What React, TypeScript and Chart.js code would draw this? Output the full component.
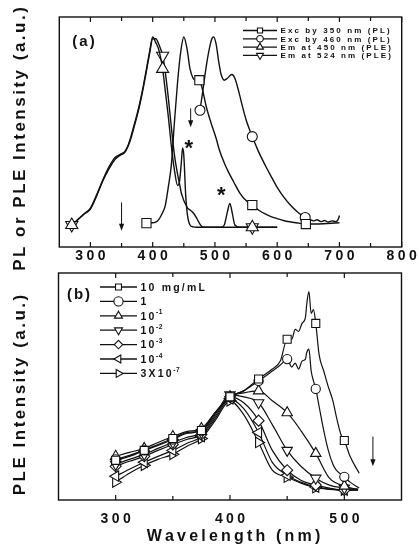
import React, { useEffect, useRef } from "react";
import { Chart, registerables } from "chart.js";

Chart.register(...registerables);

const FONT = '"Liberation Sans", Arial, Helvetica, sans-serif';
const INK = "#111";

// ---------- panel (a): PL and PLE spectra ----------
const A_PLE_NM = [270, 280, 290, 300, 310, 320, 330, 340, 345, 350, 355, 360, 365, 370, 375, 380, 385, 390, 395, 400, 405, 410, 416, 420, 425, 430, 435, 440, 443, 446, 448, 450, 453, 456, 460, 465, 470, 475, 480, 490, 500, 510, 515, 520, 524, 528, 532, 540, 560, 580, 600];
const A_EM450 = [0, 0.03, 0.06, 0.09, 0.16, 0.24, 0.31, 0.36, 0.37, 0.38, 0.39, 0.42, 0.47, 0.53, 0.59, 0.66, 0.74, 0.83, 0.92, 1.0, 0.97, 0.93, 0.83, 0.72, 0.58, 0.42, 0.29, 0.21, 0.23, 0.33, 0.41, 0.37, 0.16, 0.05, 0.0, -0.01, -0.012, -0.012, -0.012, -0.012, -0.012, -0.012, -0.012, -0.012, -0.012, -0.012, -0.012, -0.012, -0.012, -0.012, -0.012];
const A_EM524 = [0, 0.028, 0.058, 0.085, 0.155, 0.235, 0.3, 0.35, 0.365, 0.375, 0.385, 0.415, 0.46, 0.52, 0.58, 0.65, 0.73, 0.82, 0.91, 0.99, 0.99, 0.96, 0.9, 0.82, 0.68, 0.52, 0.37, 0.27, 0.22, 0.17, 0.15, 0.13, 0.11, 0.09, 0.08, 0.065, 0.04, 0.01, -0.01, -0.012, -0.012, -0.012, 0.0, 0.07, 0.115, 0.06, 0.0, -0.012, -0.012, -0.012, -0.012];
const A_SQ_NM = [390, 400, 405, 410, 415, 420, 425, 430, 435, 440, 445, 450, 455, 460, 465, 470, 475, 480, 486, 494, 502, 507, 515, 522, 530, 540, 550, 560, 570, 580, 590, 600, 610, 620, 635, 646, 660, 680, 700];
const A_EXC350 = [0.01, 0.012, 0.015, 0.03, 0.06, 0.1, 0.2, 0.32, 0.55, 0.76, 0.92, 1.0, 0.94, 0.83, 0.78, 0.77, 0.77, 0.72, 0.63, 0.54, 0.46, 0.4, 0.33, 0.28, 0.23, 0.17, 0.13, 0.106, 0.08, 0.06, 0.045, 0.034, 0.024, 0.017, 0.01, 0.005, 0.005, 0.008, 0.012];
const A_CI_NM = [476, 480, 485, 490, 495, 498, 502, 506, 510, 515, 520, 527, 532, 539, 545, 550, 560, 570, 582, 590, 600, 608, 620, 634, 645, 652, 658, 664, 670, 676, 682, 688, 694, 698, 700];
const A_EXC460 = [0.61, 0.7, 0.82, 0.92, 0.99, 1.0, 0.96, 0.87, 0.8, 0.77, 0.78, 0.8, 0.78, 0.7, 0.62, 0.56, 0.47, 0.39, 0.31, 0.26, 0.2, 0.16, 0.11, 0.065, 0.04, 0.03, 0.022, 0.028, 0.018, 0.024, 0.016, 0.022, 0.018, 0.03, 0.05];
const A_MARK_EXC350 = [390, 475, 560, 646];
const A_MARK_EXC460 = [476, 560, 645];
const A_MARK_PLE = [270, 416, 560];
const A_TICKS = [300, 400, 500, 600, 700, 800];
const A_MINOR = [350, 450, 550, 650, 750];
const A_LEGEND = ["Exc by 350 nm (PL)", "Exc by 460 nm (PL)", "Em at 450 nm (PLE)", "Em at 524 nm (PLE)"];
const A_ARROW_NM = [350, 461];
const A_ARROW_FROM = [0.12, 0.62];
const A_ARROW_TO = [-0.03, 0.52];
const A_STAR_NM = [458, 510];
const A_STAR_Y = [0.44, 0.19];

// ---------- panel (b): PLE versus concentration ----------
const B_HI_NM = [300, 312, 325, 337, 350, 362, 375, 387, 400, 412, 425, 437, 444, 450, 454, 457, 460, 463, 466, 467, 469, 471, 473, 475, 478, 482, 486, 490, 493, 497, 500, 505, 513];
const B_10MG = [0.15, 0.17, 0.2, 0.23, 0.26, 0.29, 0.3, 0.39, 0.47, 0.5, 0.56, 0.61, 0.65, 0.76, 0.76, 0.81, 0.8, 0.84, 0.87, 0.93, 1.0, 0.89, 0.91, 0.84, 0.68, 0.6, 0.52, 0.45, 0.37, 0.28, 0.25, 0.17, 0.085];
const B_1MG = [0.155, 0.175, 0.2, 0.225, 0.255, 0.285, 0.3, 0.39, 0.47, 0.5, 0.55, 0.6, 0.63, 0.66, 0.62, 0.64, 0.61, 0.65, 0.66, 0.69, 0.71, 0.6, 0.55, 0.51, 0.42, 0.3, 0.2, 0.13, 0.1, 0.08, 0.067, 0.04, 0.01];
const B_LO_NM = [300, 312, 325, 337, 350, 362, 375, 387, 400, 412, 425, 437, 450, 462, 475, 487, 500, 512];
const B_E1 = [0.17, 0.19, 0.21, 0.24, 0.27, 0.295, 0.31, 0.39, 0.47, 0.49, 0.5, 0.45, 0.39, 0.3, 0.185, 0.06, 0.02, 0.003];
const B_E2 = [0.13, 0.155, 0.18, 0.21, 0.24, 0.265, 0.29, 0.38, 0.48, 0.47, 0.44, 0.33, 0.2, 0.12, 0.06, 0.025, 0.01, 0.004];
const B_E3 = [0.12, 0.145, 0.17, 0.2, 0.23, 0.255, 0.28, 0.37, 0.47, 0.44, 0.35, 0.2, 0.1, 0.05, 0.025, 0.01, 0.0, 0.005];
const B_E4 = [0.07, 0.105, 0.14, 0.17, 0.2, 0.235, 0.27, 0.36, 0.46, 0.41, 0.29, 0.14, 0.075, 0.04, 0.015, 0.006, 0.0, 0.0];
const B_E7 = [0.04, 0.085, 0.125, 0.155, 0.18, 0.22, 0.26, 0.35, 0.45, 0.38, 0.24, 0.1, 0.065, 0.035, 0.012, 0.004, 0.0, 0.0];
const B_MARKS = [300, 325, 350, 375, 400, 425, 450, 475, 500];
const B_TICKS = [300, 400, 500];
const B_MINOR = [350, 450];
const B_LEGEND: [string, string][] = [["10 mg/mL", ""], ["1", ""], ["10", "-1"], ["10", "-2"], ["10", "-3"], ["10", "-4"], ["3X10", "-7"]];
const B_ARROW_NM = [525];
const B_ARROW_FROM = [0.27];
const B_ARROW_TO = [0.12];

type Mark = { style: string; r: number; rot: number };

const A_STYLES: Mark[] = [
  { style: "rect", r: 6.5, rot: 0 },
  { style: "circle", r: 5, rot: 0 },
  { style: "triangle", r: 7, rot: 0 },
  { style: "triangle", r: 7, rot: 180 },
];
const B_STYLES: Mark[] = [
  { style: "rect", r: 5.7, rot: 0 },
  { style: "circle", r: 4.6, rot: 0 },
  { style: "triangle", r: 6, rot: 0 },
  { style: "triangle", r: 6, rot: 180 },
  { style: "rectRot", r: 5.5, rot: 0 },
  { style: "triangle", r: 6, rot: 270 },
  { style: "triangle", r: 6, rot: 90 },
];

function lineSet(label: string, nm: number[], vals: number[], marks: number[], m: Mark, width: number) {
  return {
    label,
    data: nm.map((x, i) => ({ x, y: vals[i] })),
    borderColor: INK,
    borderWidth: width,
    backgroundColor: "#fff",
    fill: false,
    cubicInterpolationMode: "monotone",
    pointStyle: m.style,
    pointRotation: m.rot,
    pointRadius: (c: any) => (marks.includes(nm[c.dataIndex]) ? m.r : 0),
    pointHoverRadius: 0,
    pointBackgroundColor: "#fff",
    pointBorderColor: INK,
    pointBorderWidth: 1.1,
  };
}

function marker(ctx: CanvasRenderingContext2D, m: Mark, x: number, y: number, r: number) {
  ctx.save();
  ctx.translate(x, y);
  ctx.beginPath();
  if (m.style === "circle") {
    ctx.arc(0, 0, r, 0, Math.PI * 2);
  } else if (m.style === "rect") {
    const s = r * Math.SQRT1_2;
    ctx.rect(-s, -s, 2 * s, 2 * s);
  } else if (m.style === "rectRot") {
    ctx.moveTo(0, -r);
    ctx.lineTo(r, 0);
    ctx.lineTo(0, r);
    ctx.lineTo(-r, 0);
  } else {
    let a = (m.rot * Math.PI) / 180;
    ctx.moveTo(Math.sin(a) * r, -Math.cos(a) * r);
    a += (2 * Math.PI) / 3;
    ctx.lineTo(Math.sin(a) * r, -Math.cos(a) * r);
    a += (2 * Math.PI) / 3;
    ctx.lineTo(Math.sin(a) * r, -Math.cos(a) * r);
  }
  ctx.closePath();
  ctx.fillStyle = "#fff";
  ctx.fill();
  ctx.lineWidth = 1.1;
  ctx.strokeStyle = INK;
  ctx.stroke();
  ctx.restore();
}

// draws text one glyph at a time so that letter spacing is exact
function spaced(ctx: CanvasRenderingContext2D, text: string, x: number, y: number, gap: number, align: "left" | "center") {
  const chars = Array.from(text);
  const widths = chars.map((c) => ctx.measureText(c).width);
  const total = widths.reduce((s, w) => s + w, 0) + gap * (chars.length - 1);
  let cx = align === "left" ? x : x - total / 2;
  ctx.textAlign = "left";
  chars.forEach((c, i) => {
    ctx.fillText(c, cx, y);
    cx += widths[i] + gap;
  });
  return cx;
}

function frameAndTicks(ctx: CanvasRenderingContext2D, ca: any, xs: any, major: number[], minor: number[]) {
  ctx.strokeStyle = INK;
  ctx.lineWidth = 1.4;
  ctx.strokeRect(ca.left, ca.top, ca.right - ca.left, ca.bottom - ca.top);
  ctx.lineWidth = 1.2;
  const tick = (v: number, len: number) => {
    const px = xs.getPixelForValue(v);
    ctx.beginPath();
    ctx.moveTo(px, ca.bottom);
    ctx.lineTo(px, ca.bottom - len);
    ctx.moveTo(px, ca.top);
    ctx.lineTo(px, ca.top + len);
    ctx.stroke();
  };
  major.forEach((v) => tick(v, 5));
  minor.forEach((v) => tick(v, 4));
}

function tickLabels(ctx: CanvasRenderingContext2D, xs: any, major: number[], baseY: number) {
  ctx.fillStyle = INK;
  ctx.font = `bold 14px ${FONT}`;
  ctx.textBaseline = "alphabetic";
  major.forEach((v) => spaced(ctx, String(v), xs.getPixelForValue(v), baseY, 3.4, "center"));
}

function yTitle(ctx: CanvasRenderingContext2D, text: string, cx: number, cy: number) {
  ctx.save();
  ctx.translate(cx, cy);
  ctx.rotate(-Math.PI / 2);
  ctx.fillStyle = INK;
  ctx.font = `bold 17px ${FONT}`;
  ctx.textBaseline = "alphabetic";
  spaced(ctx, text, 0, 17 * 0.358, 2.5, "center");
  ctx.restore();
}

function arrow(ctx: CanvasRenderingContext2D, x: number, y0: number, y1: number) {
  ctx.strokeStyle = INK;
  ctx.fillStyle = INK;
  ctx.lineWidth = 1;
  ctx.beginPath();
  ctx.moveTo(x, y0);
  ctx.lineTo(x, y1 - 5);
  ctx.stroke();
  ctx.beginPath();
  ctx.moveTo(x, y1);
  ctx.lineTo(x - 2.6, y1 - 7);
  ctx.lineTo(x + 2.6, y1 - 7);
  ctx.closePath();
  ctx.fill();
}

const panelA = {
  id: "panelA",
  afterDraw(chart: any) {
    const { ctx, chartArea: ca, scales } = chart;
    const xs = scales.x;
    const ys = scales.y;
    ctx.save();
    frameAndTicks(ctx, ca, xs, A_TICKS, A_MINOR);
    tickLabels(ctx, xs, A_TICKS, ca.bottom + 13);
    yTitle(ctx, "PL or PLE Intensity (a.u.)", 18.5, 139);

    ctx.fillStyle = INK;
    ctx.font = `bold 15px ${FONT}`;
    ctx.textBaseline = "alphabetic";
    spaced(ctx, "(a)", 83.5, 45.5, 2, "center");

    A_ARROW_NM.forEach((nm, i) =>
      arrow(ctx, xs.getPixelForValue(nm), ys.getPixelForValue(A_ARROW_FROM[i]), ys.getPixelForValue(A_ARROW_TO[i]))
    );
    ctx.fillStyle = INK;
    ctx.font = `bold 22px ${FONT}`;
    ctx.textAlign = "center";
    A_STAR_NM.forEach((nm, i) => ctx.fillText("*", xs.getPixelForValue(nm), ys.getPixelForValue(A_STAR_Y[i]) + 12.5));

    // legend
    const rowsY = [30.5, 38.8, 47.1, 55.4];
    const legendR = [3.6, 3.3, 4, 4];
    A_LEGEND.forEach((label, i) => {
      const y = rowsY[i];
      ctx.strokeStyle = INK;
      ctx.lineWidth = 1.3;
      ctx.beginPath();
      ctx.moveTo(243, y);
      ctx.lineTo(277, y);
      ctx.stroke();
      marker(ctx, A_STYLES[i], 260, y, legendR[i]);
      ctx.fillStyle = INK;
      ctx.font = `bold 8px ${FONT}`;
      ctx.textBaseline = "alphabetic";
      spaced(ctx, label, 280.5, y + 2.9, 2.1, "left");
    });
    ctx.restore();
  },
};

const panelB = {
  id: "panelB",
  afterDraw(chart: any) {
    const { ctx, chartArea: ca, scales } = chart;
    const xs = scales.x;
    const ys = scales.y;
    ctx.save();
    frameAndTicks(ctx, ca, xs, B_TICKS, B_MINOR);
    tickLabels(ctx, xs, B_TICKS, ca.bottom + 23);
    yTitle(ctx, "PLE Intensity (a.u.)", 18.5, 133);

    ctx.fillStyle = INK;
    ctx.font = `bold 16px ${FONT}`;
    ctx.textBaseline = "alphabetic";
    spaced(ctx, "Wavelength (nm)", 233.5, 273 + 16 * 0.358, 3.2, "center");

    ctx.font = `bold 15px ${FONT}`;
    spaced(ctx, "(b)", 78.5, 31.5 + 5.4, 2, "center");

    B_ARROW_NM.forEach((nm, i) =>
      arrow(ctx, xs.getPixelForValue(nm), ys.getPixelForValue(B_ARROW_FROM[i]), ys.getPixelForValue(B_ARROW_TO[i]))
    );

    const legendR = [4.2, 4.6, 4.6, 4.6, 4.2, 4.6, 4.6];
    B_LEGEND.forEach(([main, sup], i) => {
      const y = 25 + i * 14.4;
      ctx.strokeStyle = INK;
      ctx.lineWidth = 1.3;
      ctx.beginPath();
      ctx.moveTo(100, y);
      ctx.lineTo(137, y);
      ctx.stroke();
      marker(ctx, B_STYLES[i], 118.5, y, legendR[i]);
      ctx.fillStyle = INK;
      ctx.font = `bold 10.5px ${FONT}`;
      ctx.textBaseline = "alphabetic";
      const end = spaced(ctx, main, 140.5, y + 3.8, 2.2, "left");
      if (sup) {
        ctx.font = `bold 6.5px ${FONT}`;
        spaced(ctx, sup, end - 0.5, y - 1.5, 0.6, "left");
      }
    });
    ctx.restore();
  },
};

function baseOptions(pad: any, xr: [number, number], yr: [number, number]) {
  return {
    responsive: false,
    animation: false,
    devicePixelRatio: 1,
    events: [],
    layout: { padding: pad },
    plugins: { legend: { display: false }, tooltip: { enabled: false } },
    scales: {
      x: { type: "linear", min: xr[0], max: xr[1], display: false },
      y: { type: "linear", min: yr[0], max: yr[1], display: false },
    },
  };
}

export default function App() {
  const refA = useRef<HTMLCanvasElement>(null);
  const refB = useRef<HTMLCanvasElement>(null);

  useEffect(() => {
    const chartA = new Chart(refA.current as HTMLCanvasElement, {
      type: "line",
      data: {
        datasets: [
          lineSet(A_LEGEND[0], A_SQ_NM, A_EXC350, A_MARK_EXC350, A_STYLES[0], 1.4),
          lineSet(A_LEGEND[1], A_CI_NM, A_EXC460, A_MARK_EXC460, A_STYLES[1], 1.4),
          lineSet(A_LEGEND[2], A_PLE_NM, A_EM450, A_MARK_PLE, A_STYLES[2], 1.4),
          lineSet(A_LEGEND[3], A_PLE_NM, A_EM524, A_MARK_PLE, A_STYLES[3], 1.4),
        ] as any,
      },
      options: baseOptions({ left: 59.3, right: 17.3, top: 17, bottom: 28 }, [250, 800], [-0.117, 1.106]) as any,
      plugins: [panelA],
    });

    const chartB = new Chart(refB.current as HTMLCanvasElement, {
      type: "line",
      data: {
        datasets: [
          lineSet("10 mg/mL", B_HI_NM, B_10MG, B_MARKS, B_STYLES[0], 1.2),
          lineSet("1", B_HI_NM, B_1MG, B_MARKS, B_STYLES[1], 1.2),
          lineSet("10-1", B_LO_NM, B_E1, B_MARKS, B_STYLES[2], 1.2),
          lineSet("10-2", B_LO_NM, B_E2, B_MARKS, B_STYLES[3], 1.2),
          lineSet("10-3", B_LO_NM, B_E3, B_MARKS, B_STYLES[4], 1.2),
          lineSet("10-4", B_LO_NM, B_E4, B_MARKS, B_STYLES[5], 1.2),
          lineSet("3X10-7", B_LO_NM, B_E7, B_MARKS, B_STYLES[6], 1.2),
        ] as any,
      },
      options: baseOptions({ left: 58.5, right: 17.5, top: 11, bottom: 44 }, [250, 550], [-0.05, 1.094]) as any,
      plugins: [panelB],
    });

    return () => {
      chartA.destroy();
      chartB.destroy();
    };
  }, []);

  return (
    <div style={{ position: "absolute", left: 0, top: 0, width: 419, height: 544, background: "#fff", overflow: "hidden" }}>
      <canvas ref={refA} width={419} height={275} style={{ position: "absolute", left: 0, top: 0 }} />
      <canvas ref={refB} width={419} height={282} style={{ position: "absolute", left: 0, top: 262 }} />
    </div>
  );
}
